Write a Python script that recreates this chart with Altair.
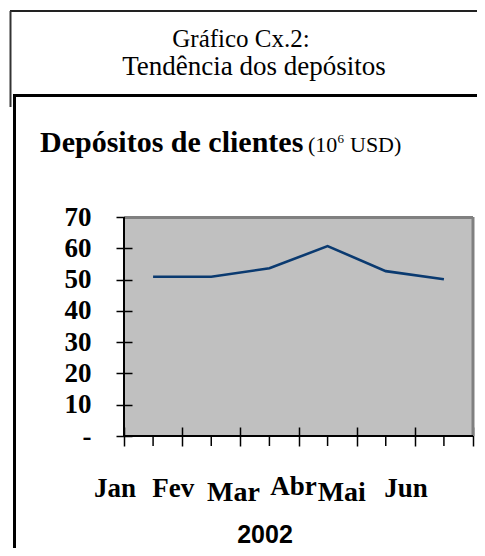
import altair as alt
import pandas as pd

# ---- data ----
months = ["Jan", "Fev", "Mar", "Abr", "Mai", "Jun"]
deposits = [50.9, 50.9, 53.6, 60.7, 52.7, 50.1]
y_ticks = [0, 10, 20, 30, 40, 50, 60, 70]
title_lines = ["Gráfico Cx.2:", "Tendência dos depósitos"]
subtitle_bold = "Depósitos de clientes"
unit_open = "(10"
unit_exp = "6"
unit_close = "USD)"
year_label = "2002"

df = pd.DataFrame({"month": months, "value": deposits})
deco = pd.DataFrame({"k": [0]})

W, H = 349, 219
SERIF = "Liberation Serif"
SANS = "Liberation Sans"

xenc = alt.X(
    "month:N",
    sort=months,
    scale=alt.Scale(type="band", domain=months, paddingInner=0, paddingOuter=0),
    axis=alt.Axis(
        tickBand="extent", tickSize=19, offset=-9, domain=False, labels=False,
        title=None, ticks=True, tickColor="black", tickWidth=1.5, grid=False,
    ),
)
yenc = alt.Y(
    "value:Q",
    scale=alt.Scale(domain=[0, 70], nice=False, zero=True),
    axis=alt.Axis(
        values=y_ticks, offset=-8, tickSize=16, domain=False, labelPadding=25,
        labelFont=SERIF, labelFontSize=27, labelFontWeight="bold", labelColor="black",
        labelOverlap=False,
        labelExpr="datum.value == 0 ? '-\u00a0\u00a0\u00a0\u00a0' : datum.label",
        title=None, grid=False, tickColor="black", tickWidth=1.5,
    ),
)

line = alt.Chart(df).mark_line(color="#0A3A70", strokeWidth=2.6).encode(x=xenc, y=yenc)

center_ticks = alt.Chart(df).mark_rule(color="black", strokeWidth=1.5).encode(
    x=xenc, y=alt.value(H), y2=alt.value(H + 10)
)

def rule(x, y, x2=None, y2=None, color="black", w=2):
    enc = {"x": alt.value(x), "y": alt.value(y)}
    if x2 is not None:
        enc["x2"] = alt.value(x2)
    if y2 is not None:
        enc["y2"] = alt.value(y2)
    return alt.Chart(deco).mark_rule(color=color, strokeWidth=w).encode(**enc)

borders = [
    rule(0, 0.5, x2=W, color="#808080", w=3),
    rule(W, 0, y2=H, color="#808080", w=3),
    rule(0, 0, y2=H, color="black", w=2),
    rule(0, H, x2=W, color="black", w=2),
]

frames = [
    rule(-114, -206, x2=361, color="#222222", w=2),
    rule(-113.5, -206, y2=-110, color="#333333", w=2),
    rule(-110, -121.5, x2=361, color="black", w=3),
    rule(-109.5, -123, y2=340, color="black", w=3),
]

def text(t, x, y, size, font=SERIF, weight="normal", align="left"):
    return alt.Chart(deco).mark_text(
        text=t, font=font, fontSize=size, fontWeight=weight, align=align,
        baseline="alphabetic", color="black",
    ).encode(x=alt.value(x), y=alt.value(y))

texts = [
    text(title_lines[0], 117, -170, 25, align="center"),
    text(title_lines[1], 130, -142, 27, align="center"),
    text(subtitle_bold, -84, -65, 30, weight="bold"),
    text(unit_open, 184, -65, 22),
    text(unit_exp, 213.5, -74, 13),
    text(unit_close, 226, -65, 22),
    text(year_label, 141, 326, 25, font=SANS, weight="bold", align="center"),
]

def month_labels(sel, dx, dy, size):
    return alt.Chart(df).transform_filter(
        alt.FieldOneOfPredicate(field="month", oneOf=sel)
    ).mark_text(
        font=SERIF, fontSize=size, fontWeight="bold", align="center",
        baseline="alphabetic", color="black", dx=dx, dy=dy,
    ).encode(x=xenc, y=alt.value(280), text="month:N")

labels = [
    month_labels(["Jan", "Fev", "Jun"], -38, 0, 27),
    month_labels(["Mar"], -36, 4, 28),
    month_labels(["Abr"], -34, -2, 27),
    month_labels(["Mai"], -44, 4, 28),
]

chart = alt.layer(
    line, center_ticks, *borders, *frames, *texts, *labels
).properties(
    width=W, height=H,
    background="white",
    padding={"left": 116, "top": 209, "right": 4, "bottom": 112},
    autosize=alt.AutoSizeParams(type="none"),
).configure_view(fill="#C0C0C0", stroke="transparent")

chart.save("out.html", embed_options={"renderer": "svg", "actions": False})
